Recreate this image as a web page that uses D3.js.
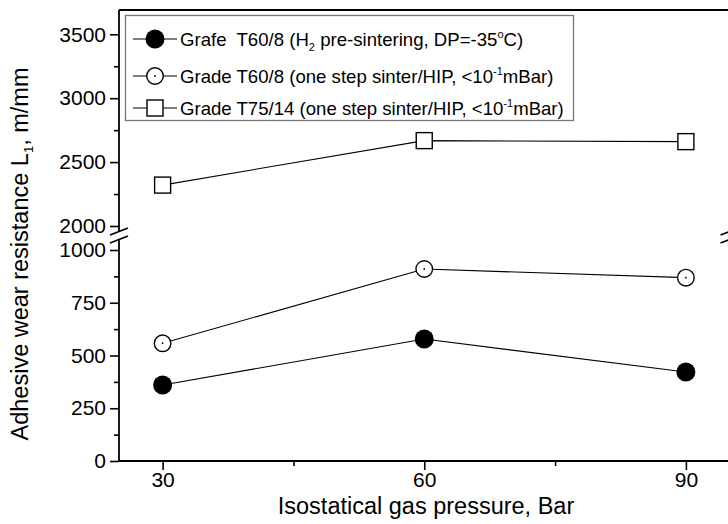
<!DOCTYPE html>
<html>
<head>
<meta charset="utf-8">
<script src="https://cdn.jsdelivr.net/npm/d3@7"></script>
<style>
  body { margin: 0; background: #fff; }
  svg text { font-family: "Liberation Sans", Arial, sans-serif; fill: #000; }
</style>
</head>
<body>
<div id="chart"></div>
<script>
// values
var pressures = [30, 60, 90];
var grafeH2 = [360, 578, 422];        // T60/8, H2 pre-sintering
var gradeT60 = [558, 910, 869];       // T60/8 one step sinter/HIP
var gradeT75 = [2320, 2668, 2660];    // T75/14 one step sinter/HIP

var xMajor = [30, 60, 90], xMinor = [45, 75];
var lowMajor = [0, 250, 500, 750, 1000], lowMinor = [125, 375, 625, 875];
var highMajor = [2000, 2500, 3000, 3500], highMinor = [2250, 2750, 3250];

var width = 728, height = 524;

var svg = d3.select("#chart").append("svg")
    .attr("width", width)
    .attr("height", height);

var x = d3.scaleLinear().domain([25, 95]).range([119, 729.5]);
var yLow = d3.scaleLinear().domain([0, 1000]).range([461, 250]);
var yHigh = d3.scaleLinear().domain([2000, 3690]).range([226, 10]);

function y(v) {
    return v >= 1500 ? yHigh(v) : yLow(v);
}

var left = x.range()[0], right = x.range()[1];

// axes (ticks only, the axis lines are drawn by hand because of the break)
function drawAxis(gen, tr) {
    var g = svg.append("g").attr("transform", tr).call(gen)
        .attr("font-family", "Liberation Sans, Arial, sans-serif");
    g.select(".domain").remove();
    g.selectAll(".tick line").attr("stroke", "#000").attr("stroke-width", 1.6);
    g.selectAll(".tick text").style("font-size", "21px").attr("fill", "#000");
    return g;
}

var fmt = d3.format("d");
drawAxis(d3.axisBottom(x).tickValues(xMajor).tickSize(9).tickPadding(2).tickFormat(fmt),
    "translate(0," + yLow(0) + ")");
drawAxis(d3.axisBottom(x).tickValues(xMinor).tickSize(5).tickFormat(""),
    "translate(0," + yLow(0) + ")");
drawAxis(d3.axisLeft(yLow).tickValues(lowMajor).tickSize(9).tickPadding(4).tickFormat(fmt),
    "translate(" + left + ",0)");
drawAxis(d3.axisLeft(yLow).tickValues(lowMinor).tickSize(5).tickFormat(""),
    "translate(" + left + ",0)");
drawAxis(d3.axisLeft(yHigh).tickValues(highMajor).tickSize(9).tickPadding(4).tickFormat(fmt),
    "translate(" + left + ",0)");
drawAxis(d3.axisLeft(yHigh).tickValues(highMinor).tickSize(5).tickFormat(""),
    "translate(" + left + ",0)");

// frame lines
var frame = svg.append("g").attr("stroke", "#000").attr("stroke-width", 1.8);
frame.append("line").attr("x1", left).attr("x2", width + 2).attr("y1", yHigh.range()[1]).attr("y2", yHigh.range()[1]);
frame.append("line").attr("x1", left).attr("x2", width + 2).attr("y1", yLow(0)).attr("y2", yLow(0));
frame.append("line").attr("x1", left).attr("x2", left).attr("y1", yHigh.range()[1]).attr("y2", 231);
frame.append("line").attr("x1", left).attr("x2", left).attr("y1", 240).attr("y2", yLow(0));
frame.append("line").attr("x1", right).attr("x2", right).attr("y1", yHigh.range()[1]).attr("y2", 231);
frame.append("line").attr("x1", right).attr("x2", right).attr("y1", 240).attr("y2", yLow(0));

// break marks
[left, right].forEach(function(cx) {
    [0, 8].forEach(function(off) {
        frame.append("line")
            .attr("x1", cx - 9).attr("y1", 235 + off)
            .attr("x2", cx + 9).attr("y2", 228 + off)
            .attr("stroke-width", 1.6);
    });
});

var line = d3.line()
    .x(function(d) { return x(d[0]); })
    .y(function(d) { return y(d[1]); });

var series = [
    { name: "grafe", values: grafeH2, shape: "filled" },
    { name: "t60", values: gradeT60, shape: "open" },
    { name: "t75", values: gradeT75, shape: "square" }
];

function drawMarker(g, shape, cx, cy) {
    if (shape === "filled") {
        g.append("circle").attr("cx", cx).attr("cy", cy).attr("r", 9.5).attr("fill", "#000");
    } else if (shape === "open") {
        g.append("circle").attr("cx", cx).attr("cy", cy).attr("r", 8.3)
            .attr("fill", "#fff").attr("stroke", "#000").attr("stroke-width", 1.4);
        g.append("circle").attr("cx", cx).attr("cy", cy).attr("r", 0.9).attr("fill", "#000");
    } else {
        g.append("rect").attr("x", cx - 8).attr("y", cy - 8).attr("width", 16).attr("height", 16)
            .attr("fill", "#fff").attr("stroke", "#000").attr("stroke-width", 1.4);
    }
}

series.forEach(function(s) {
    var pts = pressures.map(function(p, i) { return [p, s.values[i]]; });
    svg.append("path")
        .datum(pts)
        .attr("d", line)
        .attr("fill", "none")
        .attr("stroke", "#000")
        .attr("stroke-width", 1.1);
    var g = svg.append("g");
    pts.forEach(function(d) { drawMarker(g, s.shape, x(d[0]), y(d[1])); });
});

// legend
var legend = svg.append("g");
legend.append("rect")
    .attr("x", 125.5).attr("y", 15.5).attr("width", 448).attr("height", 105)
    .attr("fill", "#fff").attr("stroke", "#777").attr("stroke-width", 1.3);

var legendRows = [
    { shape: "filled", y: 39, parts: [["Grafe\u00A0 T60/8 (H", 0], ["2", -1], [" pre-sintering, DP=-35", 0], ["o", 1], ["C)", 0]] },
    { shape: "open", y: 76, parts: [["Grade T60/8 (one step sinter/HIP, <10", 0], ["-1", 1], ["mBar)", 0]] },
    { shape: "square", y: 108, parts: [["Grade T75/14 (one step sinter/HIP, <10", 0], ["-1", 1], ["mBar)", 0]] }
];

legendRows.forEach(function(r) {
    legend.append("line").attr("x1", 133).attr("x2", 177).attr("y1", r.y).attr("y2", r.y)
        .attr("stroke", "#000").attr("stroke-width", 1.1);
    drawMarker(legend, r.shape, 155, r.y);
    var t = legend.append("text").attr("x", 180).attr("y", r.y + 7).style("font-size", "18.6px");
    var shift = 0;
    r.parts.forEach(function(p) {
        var want = p[1] === -1 ? 5 : (p[1] === 1 ? -8 : 0);
        var ts = t.append("tspan").text(p[0]).attr("dy", want - shift);
        if (p[1] !== 0) ts.style("font-size", "11px");
        shift = want;
    });
});

// axis titles
svg.append("text")
    .attr("x", 426).attr("y", 514)
    .attr("text-anchor", "middle")
    .style("font-size", "23.5px")
    .text("Isostatical gas pressure, Bar");

var yt = svg.append("text")
    .attr("transform", "translate(28,254) rotate(-90)")
    .attr("text-anchor", "middle")
    .style("font-size", "23.5px");
yt.append("tspan").text("Adhesive wear resistance L");
yt.append("tspan").attr("dy", 5).style("font-size", "13px").text("1");
yt.append("tspan").attr("dy", -5).text(", m/mm");
</script>
</body>
</html>
